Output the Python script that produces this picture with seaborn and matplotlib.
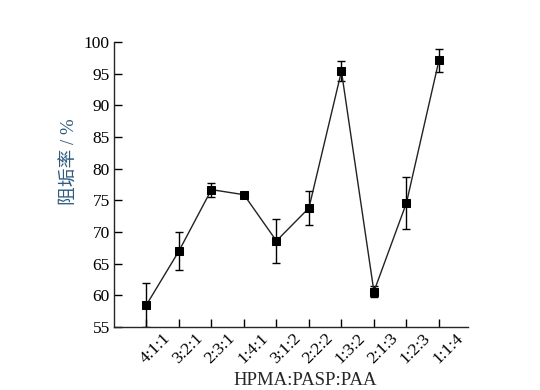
import matplotlib
matplotlib.use("Agg")
import matplotlib.pyplot as plt
import matplotlib.transforms as mtransforms
import seaborn as sns
import pandas as pd
import numpy as np

ratios = ["4:1:1", "3:2:1", "2:3:1", "1:4:1", "3:1:2", "2:2:2", "1:3:2", "2:1:3", "1:2:3", "1:1:4"]
inhibition = [58.5, 67.0, 76.7, 75.9, 68.6, 73.8, 95.4, 60.6, 74.6, 97.1]
errors = [3.5, 3.0, 1.1, 0.3, 3.5, 2.7, 1.6, 0.9, 4.1, 1.8]
yticks = [55, 60, 65, 70, 75, 80, 85, 90, 95, 100]

sns.set_style("ticks")
plt.rcParams['font.family'] = ['Liberation Serif', 'Noto Sans CJK SC']
plt.rcParams['axes.linewidth'] = 1.0

df = pd.DataFrame({"ratio": ratios, "val": inhibition, "err": errors})
df["pos"] = np.arange(len(ratios))

fig = plt.figure(figsize=(5.4, 3.9), dpi=100)
ax = fig.add_axes([0.211, 0.1615, 0.656, 0.7305])

ax.errorbar(df["pos"], df["val"], yerr=df["err"], fmt='none', ecolor='black',
            elinewidth=1.0, capsize=2.6, capthick=1.0, zorder=2)
sns.lineplot(data=df, x="pos", y="val", ax=ax, color='#222222', linewidth=1.0,
             marker='s', markersize=5.5, markerfacecolor='black', markeredgecolor='black',
             zorder=3)

ax.set_xlim(-1, 9.9)
ax.set_ylim(55, 100)
ax.set_yticks(yticks)
ax.set_yticklabels([str(t) for t in yticks], fontsize=12.5)
ax.tick_params(direction='in', length=5.5, width=1.0, colors='black')
ax.tick_params(axis='x', pad=0)
ax.tick_params(axis='y', pad=3)
ax.set_xticks(df["pos"])
labels = ax.set_xticklabels(ratios, rotation=45, ha='right', va='top', fontsize=12.5,
                            rotation_mode='anchor')
offset = mtransforms.ScaledTranslation(16 / 100, -3 / 100, fig.dpi_scale_trans)
for lab in labels:
    lab.set_transform(lab.get_transform() + offset)
sns.despine(ax=ax)

ax.set_xlabel("HPMA:PASP:PAA", fontsize=13.5)
ax.xaxis.set_label_coords(0.54, -0.158)
ax.set_ylabel("阻垢率 / %", fontsize=13.5, color='#2b5b84')
ax.yaxis.set_label_coords(-0.10, 0.58)

fig.savefig("out.png", dpi=100)
